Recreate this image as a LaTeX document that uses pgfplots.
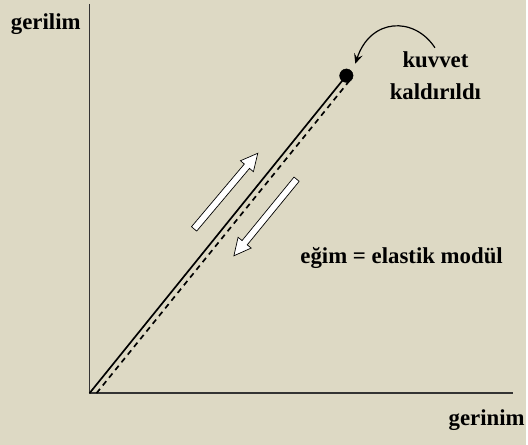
\documentclass[border=0pt]{standalone}
\usepackage{pgfplots}
\pgfplotsset{compat=1.18}
\usepackage{fontspec}
\setmainfont{Liberation Serif}
\usetikzlibrary{arrows.meta}
\definecolor{bg}{RGB}{221,217,196}
\begin{document}
\begin{tikzpicture}
\begin{axis}[
  scale only axis, width=528bp, height=447bp,
  xmin=0, xmax=528, ymin=0, ymax=447, y dir=reverse,
  ticks=none, axis line style={draw=none},
  axis background/.style={fill=bg},
  clip=false,
  font=\fontsize{23}{26}\selectfont\bfseries,
]
% axes
\addplot[black!80, line width=1.4pt] coordinates {(90,4) (90,395) (515,395)};
% loading line (solid)
\addplot[black, line width=1.7pt] coordinates {(90,395) (348,76)};
% unloading line (dashed)
\addplot[black, line width=1.7pt, dash pattern=on 5.5pt off 4.5pt] coordinates {(97,395) (352,80)};
% point where force removed
\addplot[only marks, mark=*, mark size=6.8pt, black] coordinates {(348,76)};
% white arrows
\addplot[fill=white, draw=black, line width=0.7pt] coordinates {
 (197.6,232.2) (250.7,169.2) (254.6,172.5) (259,154) (241.6,161.5) (245.5,164.8) (192.4,227.8) (197.6,232.2)};
\addplot[fill=white, draw=black, line width=0.7pt] coordinates {
 (300.6,182.2) (248.4,246.0) (252.4,249.2) (235,257) (239.2,238.4) (243.2,241.7) (295.4,177.9) (300.6,182.2)};
% curved arrow
\draw[line width=1.2pt, -{Stealth[length=10pt,width=9pt,inset=4pt]}] (axis cs:437,48) .. controls (axis cs:416,16) and (axis cs:372,18) .. (axis cs:357,64);
% labels
\node[anchor=base] at (axis cs:46,30) {gerilim};
\node[anchor=base] at (axis cs:489,428) {gerinim};
\node[anchor=base] at (axis cs:437.5,68) {kuvvet};
\node[anchor=base] at (axis cs:437.5,100) {kaldırıldı};
\node[anchor=base] at (axis cs:403.5,265) {eğim = elastik modül};
\end{axis}
\end{tikzpicture}
\end{document}
